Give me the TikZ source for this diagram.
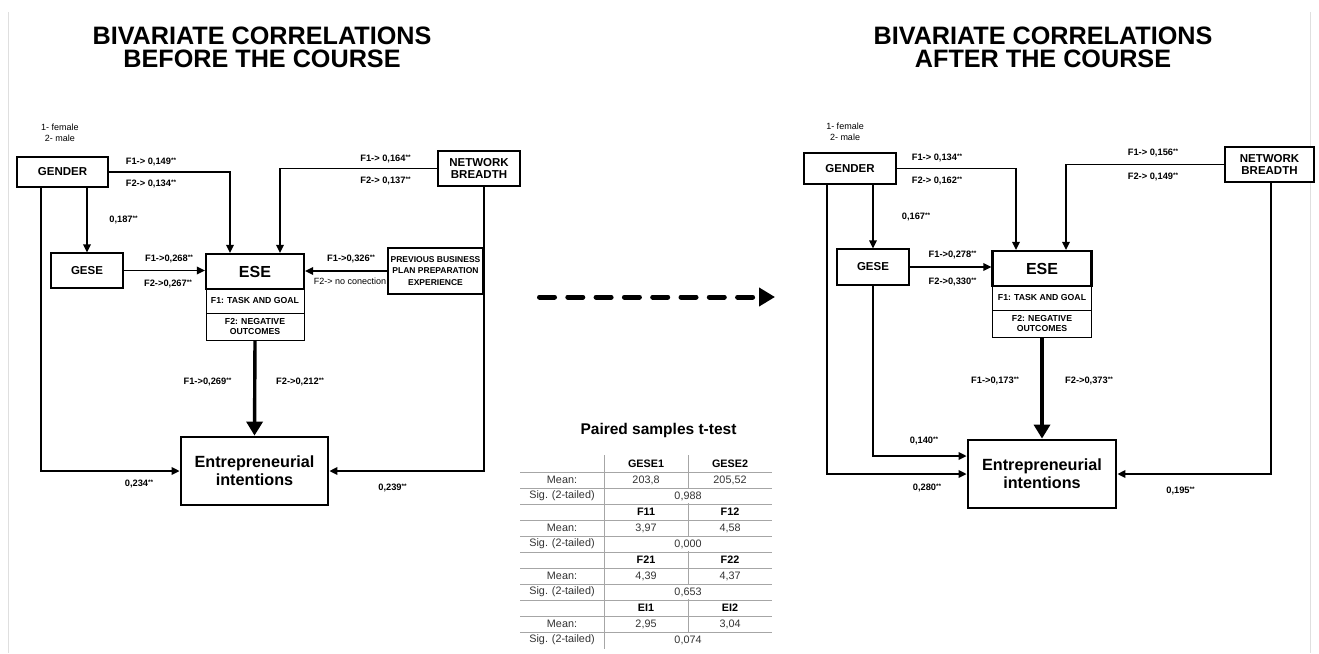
\documentclass[tikz,border=0pt]{standalone}
\usepackage{fontspec}
\setmainfont{Liberation Sans}
\usepackage{graphicx}
\usetikzlibrary{arrows.meta}
\newcommand{\st}{{\fontsize{6.5}{6.5}\selectfont\raisebox{2.6pt}{**}}}
\begin{document}
\begin{tikzpicture}[x=1pt,y=-1pt,
  box/.style={draw, line width=1.2pt, fill=white, inner sep=0pt, align=center, font=\fontsize{11.5}{12.5}\selectfont\bfseries},
  subbox/.style={draw, line width=0.9pt, fill=white, inner sep=0pt, align=center, minimum width=98, font=\fontsize{8.7}{10.7}\selectfont\bfseries},
  esebox/.style={draw, line width=2.2pt, fill=white, inner sep=0pt, minimum width=98, minimum height=35, font=\fontsize{16}{18}\selectfont\bfseries},
  eibox/.style={draw, line width=2.8pt, fill=white, inner sep=0pt, align=center, minimum width=147, minimum height=68, font=\fontsize{16.2}{18}\selectfont\bfseries},
  lab/.style={inner sep=0pt, font=\fontsize{9.3}{10}\selectfont\bfseries},
  note/.style={inner sep=0pt, align=center, font=\fontsize{9}{11}\selectfont},
  title/.style={inner sep=0pt, align=center, font=\fontsize{25.2}{23}\selectfont\bfseries},
  arr/.style={line width=1.7pt, -{Triangle[length=8pt,width=7.5pt]}},
  thickarr/.style={line width=3.4pt, -{Triangle[length=14pt,width=16pt]}},
  tline/.style={line width=0.9pt, gray!70},
  tcell/.style={inner sep=0pt, text=black!80, font=\fontsize{10.8}{12}\selectfont},
  thead/.style={inner sep=0pt, font=\fontsize{10.8}{12}\selectfont\bfseries}
]
\fill[white] (0,0) rectangle (1319,653);
\useasboundingbox (0,0) rectangle (1319,653);
% page edge lines
\draw[gray!25, line width=1pt] (8,12) -- (8,653);
\draw[gray!25, line width=1pt] (1310,12) -- (1310,653);

% titles
\node[title] (tl) at (262,47) {BIVARIATE CORRELATIONS\\BEFORE THE COURSE};
\node[title] (tr) at (1043,47) {BIVARIATE CORRELATIONS\\AFTER THE COURSE};

% ================= LEFT =================
\node[note] (codes) at (60,132.5) {1- female\\2- male};
\node[box, minimum width=91, minimum height=30] (gender) at (62.5,172) {GENDER};
\node[box, minimum width=72, minimum height=35] (gese) at (87,270.5) {GESE};
\node[subbox, minimum height=24] (esef1) at (255,301) {F1: TASK AND GOAL};
\node[subbox, minimum height=27] (esef2) at (255,326.5) {F2: NEGATIVE\\OUTCOMES};
\node[esebox] (ese) at (255,271.5) {ESE};
\node[box, minimum width=82, minimum height=35] (net) at (479,168.5) {NETWORK\\BREADTH};
\node[box, font=\fontsize{8.5}{11.5}\selectfont\bfseries, minimum width=95, minimum height=46] (prev) at (435.5,271) {PREVIOUS BUSINESS\\PLAN PREPARATION\\EXPERIENCE};
\node[eibox] (ei) at (254.5,471) {Entrepreneurial\\intentions};

\draw[arr] (gender.east) -| ([xshift=-25pt]ese.north);
\draw[arr] (gender.south -| gese.north) -- (gese.north);
\draw[arr] ([xshift=-21.5pt]gender.south) |- (ei.west);
\draw[arr] (gese.east) -- (gese.east -| ese.west);
\draw[arr] (net.west) -| ([xshift=25pt]ese.north);
\draw[arr] (prev.west) -- (prev.west -| ese.east);
\draw[arr] ([xshift=5pt]net.south) |- (ei.east);
\draw[thickarr] (esef2.south) -- (ei.north);

\node[lab] (l1) at (151,162) {F1-> 0,149\st};
\node[lab] (l2) at (151,184) {F2-> 0,134\st};
\node[lab] (l3) at (123.5,220) {0,187\st};
\node[lab] (l4) at (169,259) {F1->0,268\st};
\node[lab] (l5) at (168,284) {F2->0,267\st};
\node[lab] (l6) at (385.5,159) {F1-> 0,164\st};
\node[lab] (l7) at (385.5,181) {F2-> 0,137\st};
\node[lab] (l8) at (351,259) {F1->0,326\st};
\node[note] (l9) at (350,281) {F2-> no conection};
\node[lab] (l10) at (207.5,382) {F1->0,269\st};
\node[lab] (l11) at (300,382) {F2->0,212\st};
\node[lab] (l12) at (139,484) {0,234\st};
\node[lab] (l13) at (392.5,488) {0,239\st};

% ================= MIDDLE =================
\coordinate (da) at (539.5,297);
\coordinate (db) at (775,297);
\draw[line width=5pt, line cap=round, dash pattern=on 15pt off 13.3pt, -{Triangle[length=16pt,width=18pt]}] (da) -- (db);

\node[inner sep=0pt, font=\fontsize{15.5}{17}\selectfont\bfseries] (ttl) at (658.5,430) {Paired samples t-test};
\foreach \yy in {472,488,...,632} \draw[tline] (520,\yy) -- (772,\yy);
\draw[tline] (604,455) -- (604,649);
\foreach \g in {0,1,2,3} \draw[tline] (688,{455+48*\g}) -- (688,{488+48*\g});

\foreach \g/\ha/\hb/\ma/\mb/\sg in {0/GESE1/GESE2/{203,8}/{205,52}/{0,988},1/F11/F12/{3,97}/{4,58}/{0,000},2/F21/F22/{4,39}/{4,37}/{0,653},3/EI1/EI2/{2,95}/{3,04}/{0,074}}{
  \node[thead] (ha\g) at (646,{464+48*\g}) {\ha};
  \node[thead] (hb\g) at (730,{464+48*\g}) {\hb};
  \node[tcell] (mn\g) at (562,{480+48*\g}) {Mean:};
  \node[tcell] (ma\g) at (646,{480+48*\g}) {\ma};
  \node[tcell] (mb\g) at (730,{480+48*\g}) {\mb};
  \node[tcell] (sl\g) at (562,{496+48*\g}) {Sig. (2-tailed)};
  \node[tcell] (sv\g) at (688,{496+48*\g}) {\sg};
}

% ================= RIGHT =================
\node[note] (codesr) at (845,132) {1- female\\2- male};
\node[box, minimum width=92, minimum height=31] (genderr) at (850,168.5) {GENDER};
\node[box, minimum width=72, minimum height=36] (geser) at (873,267) {GESE};
\node[subbox, minimum width=99, minimum height=24] (esef1r) at (1042,298) {F1: TASK AND GOAL};
\node[subbox, minimum width=99, minimum height=27] (esef2r) at (1042,323.5) {F2: NEGATIVE\\OUTCOMES};
\node[esebox, minimum width=99] (eser) at (1042,268.5) {ESE};
\node[box, minimum width=89, minimum height=35] (netr) at (1269.5,164.5) {NETWORK\\BREADTH};
\node[eibox, minimum width=148] (eir) at (1042,474) {Entrepreneurial\\intentions};

\draw[arr] (genderr.east) -| ([xshift=-26pt]eser.north);
\draw[arr] (genderr.south -| geser.north) -- (geser.north);
\draw[arr] ([xshift=-23pt]genderr.south) |- (eir.west);
\draw[arr] (geser.east) -- (geser.east -| eser.west);
\draw[arr] (geser.south) |- ([yshift=18pt]eir.west);
\draw[arr] (netr.west) -| ([xshift=24pt]eser.north);
\draw[arr] ([xshift=1.5pt]netr.south) |- (eir.east);
\draw[thickarr] (esef2r.south) -- (eir.north);

\node[lab] (r1) at (937,158) {F1-> 0,134\st};
\node[lab] (r2) at (937,181) {F2-> 0,162\st};
\node[lab] (r3) at (916,217) {0,167\st};
\node[lab] (r4) at (952.5,255) {F1->0,278\st};
\node[lab] (r5) at (952.5,282) {F2->0,330\st};
\node[lab] (r6) at (1153,153) {F1-> 0,156\st};
\node[lab] (r7) at (1153,177) {F2-> 0,149\st};
\node[lab] (r8) at (995,381) {F1->0,173\st};
\node[lab] (r9) at (1089,381) {F2->0,373\st};
\node[lab] (r10) at (924,441) {0,140\st};
\node[lab] (r11) at (927,488) {0,280\st};
\node[lab] (r12) at (1180.5,491) {0,195\st};
\end{tikzpicture}
\end{document}
